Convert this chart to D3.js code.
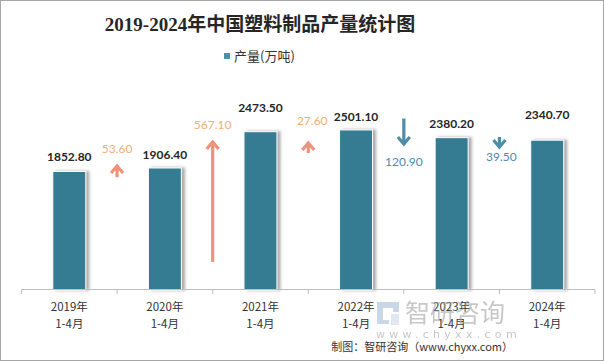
<!DOCTYPE html>
<html>
<head>
<meta charset="utf-8">
<script src="https://cdn.jsdelivr.net/npm/d3@7"></script>
<style>
body { margin: 0; background: #fff; }
svg { display: block; }
</style>
</head>
<body>
<svg width="604" height="361"></svg>
<script>
// data
var years = ["2019年", "2020年", "2021年", "2022年", "2023年", "2024年"];
var period = "1-4月";
var output = [1852.8, 1906.4, 2473.5, 2501.1, 2380.2, 2340.7];
var changes = [53.6, 567.1, 27.6, -120.9, -39.5];

// layout of the hand-placed labels / arrows
var valueLift = [10, 9, 20, 9, 10, 21];
var changeLabelY = [153, 129, 125, 166, 161];
var changeLabelDx = [0, 0, 4, 0, 2];
var arrowTipY = [166, 142, 143, 144, 147];

var svg = d3.select("svg"),
  width = +svg.attr("width"),
  height = +svg.attr("height");

var left = 21.5, right = 595, base = 290;

var x = d3.scaleBand()
  .domain(years)
  .range([left, right])
  .paddingInner(0.655)
  .paddingOuter(0.655 / 2);

var y = d3.scaleLinear()
  .domain([0, 3000])
  .range([base, 98]);

var arrowLen = d3.scaleLinear()
  .domain([0, 567.1])
  .range([0, 120]);

// shadow filter
var defs = svg.append("defs");
var f = defs.append("filter").attr("id", "shadow")
  .attr("x", "-20%").attr("y", "-10%").attr("width", "150%").attr("height", "120%");
f.append("feDropShadow")
  .attr("dx", 3).attr("dy", 0).attr("stdDeviation", 1.6)
  .attr("flood-color", "#8c8c8c").attr("flood-opacity", 0.75);

// TITLE + LEGEND
svg.append("text")
  .attr("x", 260).attr("y", 31)
  .attr("text-anchor", "middle")
  .style("font-family", "'Liberation Serif', 'Noto Sans CJK SC', serif")
  .style("font-size", "19px")
  .style("font-weight", "bold")
  .style("fill", "#262626")
  .text("2019-2024年中国塑料制品产量统计图");

svg.append("rect")
  .attr("x", 224).attr("y", 53).attr("width", 6).attr("height", 6)
  .attr("fill", "#4a91aa");
svg.append("text")
  .attr("x", 234).attr("y", 61)
  .style("font-family", "'Noto Sans CJK SC', sans-serif")
  .style("font-size", "13px")
  .style("fill", "#333")
  .text("产量(万吨)");

// BARS
svg.append("g")
  .selectAll("rect")
  .data(output)
  .enter().append("rect")
    .attr("x", (d, i) => x(years[i]))
    .attr("y", d => y(d))
    .attr("width", x.bandwidth())
    .attr("height", d => base - y(d))
    .attr("fill", "#367b93")
    .attr("stroke", "#fff")
    .attr("stroke-width", 1)
    .attr("filter", "url(#shadow)");

svg.append("g")
  .selectAll("text")
  .data(output)
  .enter().append("text")
    .attr("x", (d, i) => x(years[i]) + x.bandwidth() / 2)
    .attr("y", (d, i) => y(d) - valueLift[i])
    .attr("text-anchor", "middle")
    .style("font-family", "Lato, sans-serif")
    .style("font-size", "12px")
    .style("font-weight", "bold")
    .style("fill", "#262626")
    .text(d => d.toFixed(2));

// AXIS
var axis = svg.append("g");
axis.append("line")
  .attr("x1", left).attr("x2", right)
  .attr("y1", base - 0.5).attr("y2", base - 0.5)
  .attr("stroke", "#bfbfbf");
axis.selectAll("line.tick")
  .data(d3.range(years.length + 1))
  .enter().append("line")
    .attr("class", "tick")
    .attr("x1", i => left + i * x.step()).attr("x2", i => left + i * x.step())
    .attr("y1", base - 0.5).attr("y2", base + 4)
    .attr("stroke", "#bfbfbf");

var lab = axis.selectAll("text")
  .data(years)
  .enter().append("text")
    .attr("text-anchor", "middle")
    .style("font-family", "'Noto Sans CJK SC', sans-serif")
    .style("font-size", "11.5px")
    .style("fill", "#333");
lab.append("tspan")
  .attr("x", d => x(d) + x.bandwidth() / 2).attr("y", 311)
  .text(d => d);
lab.append("tspan")
  .attr("x", d => x(d) + x.bandwidth() / 2).attr("y", 328)
  .text(period);

// CHANGE ARROWS
var upArrow = "#f0917b", upText = "#f4ae74", downArrow = "#4e8ca7", downText = "#4a8bb0";

var ann = svg.append("g")
  .selectAll("g")
  .data(changes)
  .enter().append("g");

ann.append("path")
  .attr("d", (d, i) => {
    var cx = left + (i + 1) * x.step();
    var len = Math.max(arrowLen(Math.abs(d)), 10);
    var tip = arrowTipY[i];
    var dir = d > 0 ? 1 : -1; // 1: pointing up
    var tail = tip + dir * len;
    var h = 7 * dir;
    return "M" + cx + "," + tail + "L" + cx + "," + (tip + dir * 1.5) +
      "M" + (cx - 6) + "," + (tip + h) + "L" + cx + "," + tip + "L" + (cx + 6) + "," + (tip + h);
  })
  .attr("fill", "none")
  .attr("stroke", d => d > 0 ? upArrow : downArrow)
  .attr("stroke-width", 3.2);

ann.append("text")
  .attr("x", (d, i) => left + (i + 1) * x.step() + changeLabelDx[i])
  .attr("y", (d, i) => changeLabelY[i])
  .attr("text-anchor", "middle")
  .style("font-family", "Lato, sans-serif")
  .style("font-size", "12px")
  .style("fill", d => d > 0 ? upText : downText)
  .text(d => Math.abs(d).toFixed(2));

// WATERMARK
var wm = svg.append("g").style("opacity", 0.55);
wm.append("path")
  .attr("d", "M377,302h22v10h-6v-4h-10v12h6v4h-12z")
  .attr("fill", "#9fb7d4");
wm.append("rect")
  .attr("x", 391).attr("y", 314).attr("width", 8).attr("height", 11)
  .attr("fill", "#c9d6e6");
wm.append("text")
  .attr("x", 405).attr("y", 322)
  .style("font-family", "'Noto Sans CJK SC', sans-serif")
  .style("font-size", "25px")
  .style("fill", "#9a9a9a")
  .text("智研咨询");
wm.append("text")
  .attr("x", 376).attr("y", 338)
  .style("font-family", "'DejaVu Sans', sans-serif")
  .style("font-size", "11px")
  .style("letter-spacing", "4.3px")
  .style("fill", "#9a9a9a")
  .text("www.chyxx.com");

// SOURCE
svg.append("text")
  .attr("x", 513).attr("y", 351)
  .attr("text-anchor", "end")
  .style("font-family", "'Noto Sans CJK SC', sans-serif")
  .style("font-size", "11px")
  .style("fill", "#333")
  .text("制图：智研咨询（www.chyxx.com）");

// FRAME
svg.append("rect")
  .attr("x", 0.5).attr("y", 0.5)
  .attr("width", width - 1).attr("height", height - 1)
  .attr("fill", "none")
  .attr("stroke", "#a6a6a6");
</script>
</body>
</html>
